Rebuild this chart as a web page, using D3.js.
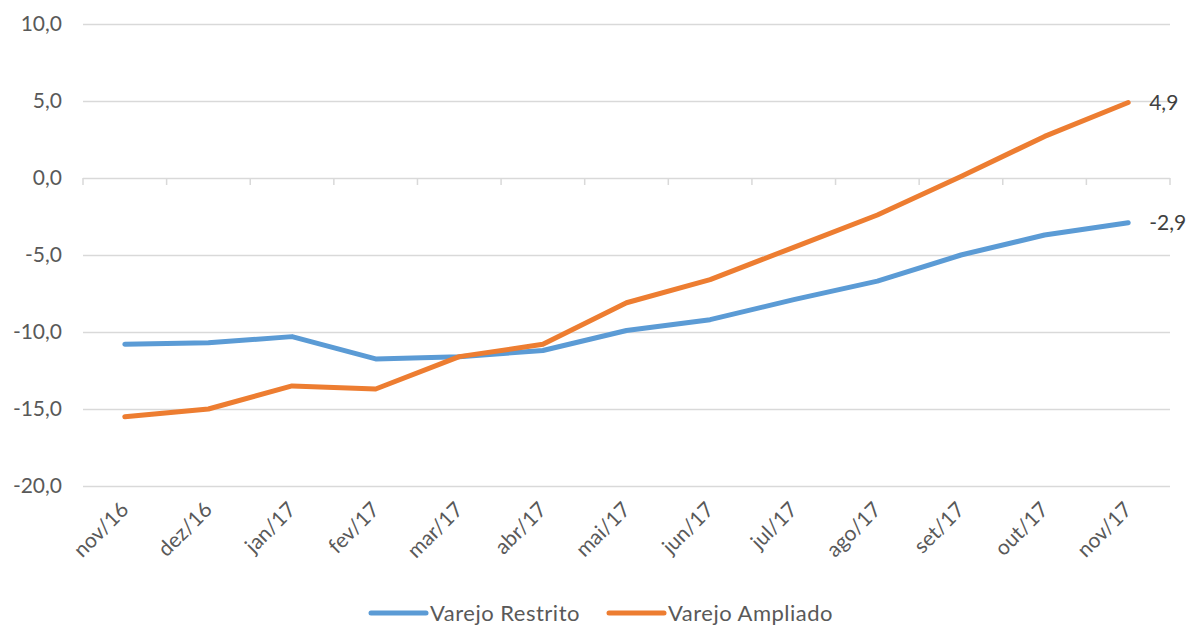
<!DOCTYPE html>
<html>
  <head>
    <title>varejo</title>
    <meta charset="UTF-8" />
    <script src="https://d3js.org/d3.v7.min.js"></script>
    <style>
        body { margin: 0; background: #fff; }
        text { font-family: Lato, "Open Sans", sans-serif; fill: #595959; }
    </style>
  </head>
  <body>
    <script>
        var months = ["nov/16","dez/16","jan/17","fev/17","mar/17","abr/17","mai/17",
                      "jun/17","jul/17","ago/17","set/17","out/17","nov/17"];
        var restrito = [-10.8,-10.7,-10.3,-11.75,-11.6,-11.2,-9.9,-9.2,-7.9,-6.7,-5.0,-3.7,-2.9];
        var ampliado = [-15.5,-15.0,-13.5,-13.7,-11.6,-10.8,-8.1,-6.6,-4.5,-2.4,0.1,2.7,4.9];
        var yTicks = [10,5,0,-5,-10,-15,-20];
        var seriesNames = ["Varejo Restrito","Varejo Ampliado"];
        var colors = ["#5B9BD5","#ED7D31"];

        var width = 1194, height = 626;
        var margin = {left: 83, top: 24, right: 24, bottom: 140};

        var fmt = v => d3.format(".1f")(v).replace(".", ",").replace("\u2212", "-");

        var svg = d3.select("body").append("svg")
            .attr("width", width).attr("height", height);

        var x = d3.scaleBand().domain(months)
            .range([margin.left, width - margin.right]);
        var y = d3.scaleLinear().domain([-20, 10])
            .range([486, margin.top]);

        // grid
        svg.append("g").selectAll("line")
            .data(yTicks).enter().append("line")
            .attr("x1", margin.left).attr("x2", width - margin.right)
            .attr("y1", d => Math.round(y(d)) + 0.5).attr("y2", d => Math.round(y(d)) + 0.5)
            .attr("stroke", "#D9D9D9").attr("stroke-width", 1.5);

        svg.append("g").selectAll("text")
            .data(yTicks).enter().append("text")
            .attr("x", 62).attr("y", d => y(d))
            .attr("dy", "0.35em")
            .attr("text-anchor", "end")
            .style("font-size", "21px")
            .text(fmt);

        // tick marks on zero line
        var tickPos = months.map(m => x(m)).concat([x.range()[1]]);
        svg.append("g").selectAll("line")
            .data(tickPos).enter().append("line")
            .attr("x1", d => d).attr("x2", d => d)
            .attr("y1", y(0)).attr("y2", y(0) + 7)
            .attr("stroke", "#D9D9D9").attr("stroke-width", 1.5);

        // x labels
        svg.append("g").selectAll("text")
            .data(months).enter().append("text")
            .attr("transform", d => "translate(" + (x(d) + x.bandwidth() / 2 + 5) + ",511) rotate(-45)")
            .attr("text-anchor", "end")
            .style("font-size", "21px")
            .text(d => d);

        var line = d3.line()
            .x((d, i) => x(months[i]) + x.bandwidth() / 2)
            .y(d => y(d));

        [restrito, ampliado].forEach(function(s, k) {
            svg.append("path")
                .datum(s)
                .attr("d", line)
                .attr("fill", "none")
                .attr("stroke", colors[k])
                .attr("stroke-width", 5)
                .attr("stroke-linejoin", "round")
                .attr("stroke-linecap", "round");

            var last = s.length - 1;
            svg.append("text")
                .attr("x", x(months[last]) + x.bandwidth() / 2 + 21)
                .attr("y", y(s[last]))
                .attr("dy", "0.35em")
                .style("font-size", "21px")
                .style("fill", "#404040")
                .text(fmt(s[last]));
        });

        // legend
        var legX = [371, 609];
        seriesNames.forEach(function(n, k) {
            svg.append("line")
                .attr("x1", legX[k]).attr("x2", legX[k] + 55)
                .attr("y1", 613).attr("y2", 613)
                .attr("stroke", colors[k]).attr("stroke-width", 5)
                .attr("stroke-linecap", "round");
            svg.append("text")
                .attr("x", legX[k] + 59)
                .attr("y", 613).attr("dy", "0.35em")
                .style("font-size", "22px")
                .style("letter-spacing", "0.5px")
                .text(n);
        });
    </script>
  </body>
</html>
